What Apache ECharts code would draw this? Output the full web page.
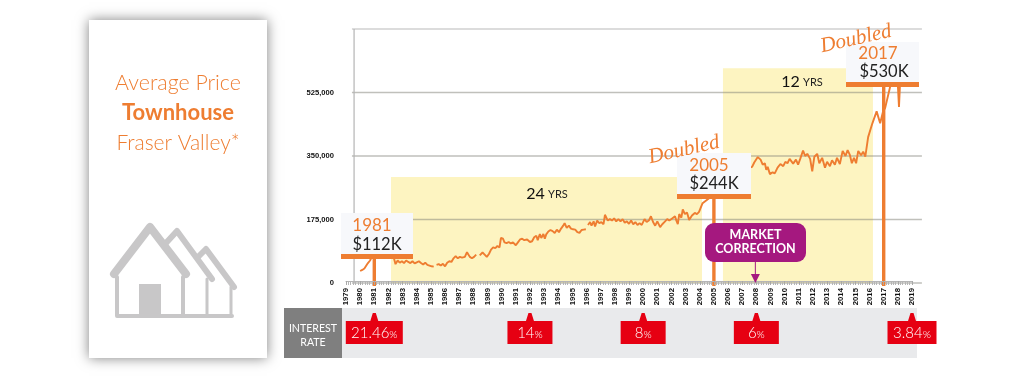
<!DOCTYPE html>
<html><head><meta charset="utf-8">
<style>html,body{margin:0;padding:0;background:#fff}#c{width:1016px;height:389px}</style>
<script src="https://cdn.jsdelivr.net/npm/echarts@6/dist/echarts.min.js"></script>
</head><body><div id="c"></div>
<script>
// [year, average price in $K]; null marks a break in the printed line
const price1980s=[[1980,33],[1980.15,36],[1980.3,40],[1980.4,42],[1980.55,55],[1980.7,62],[1980.8,70],[1981,88],[1981.3,112],[1981.6,105],[1981.9,88],[1982.1,76],[1982.2,70],[1982.35,74],[1982.5,52],[1982.65,62],[1982.8,56],[1982.95,60],[1983.1,55],[1983.25,62],[1983.4,58],[1983.55,55],[1983.7,60],[1983.85,54],[1984,57],[1984.15,60],[1984.3,55],[1984.45,51],[1984.6,56],[1984.75,50],[1984.9,48],[1985.05,46],[1985.2,45],[1985.3,null],[1985.4,50],[1985.55,52],[1985.7,48],[1985.85,53],[1986,46],[1986.15,56],[1986.3,60],[1986.45,58],[1986.6,68],[1986.75,74],[1986.9,68],[1987.05,72],[1987.2,70],[1987.4,72],[1987.55,85],[1987.75,72],[1987.9,68],[1988.05,72],[1988.2,78],[1988.3,null],[1988.45,76],[1988.5,78],[1988.65,84],[1988.8,78],[1988.95,72],[1989.1,80],[1989.25,92],[1989.4,98],[1989.55,96],[1989.7,102],[1989.85,98],[1989.95,124]];
const price1990s=[[1990.1,122],[1990.2,112],[1990.35,110],[1990.5,113],[1990.65,109],[1990.8,112],[1991,104],[1991.15,112],[1991.3,120],[1991.45,122],[1991.6,118],[1991.8,120],[1992,113],[1992.15,115],[1992.3,126],[1992.45,130],[1992.55,118],[1992.7,135],[1992.8,124],[1992.95,135],[1993.05,122],[1993.15,134],[1993.3,142],[1993.45,146],[1993.6,143],[1993.75,138],[1993.9,147],[1994.05,140],[1994.2,150],[1994.35,158],[1994.45,165],[1994.6,152],[1994.75,158],[1994.9,150],[1995.05,148],[1995.2,147],[1995.35,140],[1995.5,138],[1995.65,146],[1995.8,147],[1995.95,148],[1996.03,null],[1996.1,160],[1996.25,168],[1996.35,158],[1996.5,170],[1996.6,156],[1996.75,172],[1996.9,165],[1997.05,168],[1997.2,162],[1997.3,188],[1997.5,172],[1997.65,176],[1997.8,172],[1997.95,178],[1998.1,170],[1998.25,176],[1998.4,170],[1998.55,176],[1998.7,166],[1998.85,170],[1999,163],[1999.15,172],[1999.3,162],[1999.45,168],[1999.6,160],[1999.75,165],[1999.9,160]];
const price2000s=[[2000.1,176],[2000.25,168],[2000.4,172],[2000.55,184],[2000.7,168],[2000.85,158],[2001,170],[2001.2,154],[2001.35,162],[2001.5,168],[2001.7,176],[2001.85,172],[2002.05,178],[2002.25,184],[2002.35,172],[2002.45,162],[2002.55,190],[2002.7,180],[2002.8,203],[2002.95,190],[2003.1,194],[2003.25,174],[2003.45,186],[2003.65,193],[2003.8,190],[2003.95,196],[2004.2,220],[2004.5,229],[2005,244],[2005.5,262],[2006,285],[2006.5,300],[2007,312],[2007.7,320],[2007.85,332],[2008.1,347],[2008.3,340],[2008.45,326],[2008.6,330],[2008.7,312],[2008.8,320],[2008.96,300],[2009.15,305],[2009.3,302],[2009.5,318],[2009.7,328],[2009.9,322]];
const price2010s=[[2010.05,334],[2010.2,330],[2010.35,342],[2010.6,329],[2010.8,340],[2010.95,326],[2011.1,342],[2011.3,365],[2011.45,350],[2011.6,356],[2011.8,342],[2011.95,308],[2012.1,348],[2012.3,356],[2012.45,330],[2012.65,345],[2012.85,318],[2013,334],[2013.2,322],[2013.35,338],[2013.55,326],[2013.7,345],[2013.9,328],[2014.1,364],[2014.3,350],[2014.45,366],[2014.6,354],[2014.75,330],[2014.9,345],[2015.05,330],[2015.2,364],[2015.4,352],[2015.55,362],[2015.7,348],[2015.8,352],[2015.9,402],[2016.2,440],[2016.5,473],[2016.75,440],[2016.95,472],[2017.1,482],[2017.45,540],[2017.6,560],[2018,546],[2018.08,485],[2018.15,546],[2018.5,556]];
const pricePoints=[...price1980s,...price1990s,...price2000s,...price2010s];

const yTickValues=[0,175,350,525,700];
const yTickLabels=['0','175,000','350,000','525,000',''];
// doubling periods: [from year, to year, top level in $K]
const periods=[[1982.18,2004.16,292],[2005.64,2016.24,592]];
const calloutYears=[1981,2005,2017];
const calloutLevels=[73,238,547];
const rateYears=[1981,1992,2000,2008,2019];
const rateLabels=['21.46','14','8','6','3.84'];
const correctionYear=2008;

const ORANGE='#ee7d31', FONT='Lato, "Open Sans", sans-serif';

const txt=(text,x,y,size,color,extra)=>({type:'text',z:100,style:Object.assign({text,x,y,font:`${size}px ${FONT}`,fill:color,align:'center',verticalAlign:'middle'},extra||{})});
const box=(x,y,w,h,fill,z,extra)=>({type:'rect',z:z,shape:Object.assign({x,y,width:w,height:h},extra||{}),style:{fill}});
const poly=(points,w)=>({type:'polyline',z:6,shape:{points},style:{stroke:'#c8c7c8',lineWidth:w,fill:null,lineCap:'round',lineJoin:'round'}});

const graphics=[
  {type:'rect',z:1,shape:{x:89,y:20,width:178,height:338},style:{fill:'#fff',shadowBlur:12,shadowColor:'rgba(0,0,0,0.5)'}},
  {type:'text',z:5,style:{text:'Average Price',x:178,y:83,font:`300 21.4px ${FONT}`,fill:ORANGE,align:'center',verticalAlign:'middle'}},
  {type:'text',z:5,style:{text:'Townhouse',x:178,y:113,font:`bold 22px ${FONT}`,fill:ORANGE,align:'center',verticalAlign:'middle'}},
  {type:'text',z:5,style:{text:'Fraser Valley*',x:178,y:143,font:`300 21px ${FONT}`,fill:ORANGE,align:'center',verticalAlign:'middle'}},
  poly([[198,257],[206,249],[234,287]],6), poly([[231,287],[231,316]],3),
  poly([[166,243],[177,231],[212,279]],6), poly([[207,279],[207,316]],3),
  {type:'polygon',z:6,shape:{points:[[118,277],[150,236],[182,277],[182,315],[118,315]]},style:{fill:'#fff'}},
  poly([[114,274],[150,227],[186,274]],8),
  poly([[117,277],[117,316],[232,316]],4), poly([[183,277],[183,316]],4),
  box(139,284,22,31,'#c8c7c8',7),
  box(342,308,575,50,'#e9eaec',0),
  box(284,308,58,50,'#7f7f7f',1),
  {type:'text',z:5,style:{text:'INTEREST\nRATE',x:313,y:336,font:`10.6px ${FONT}`,lineHeight:14,fill:'#fff',align:'center',verticalAlign:'middle'}},
  // callout panels
  box(341,213,72,41,'#f7f8fb',60), box(341,254,72,5,ORANGE,70),
  txt('1981',372,226,17,ORANGE), txt('$112K',377,245,16.5,'#222'),
  box(677,153,74,41,'#f7f8fb',60), box(677,194,74,5,ORANGE,70),
  txt('2005',709,166,17,ORANGE), txt('$244K',714,184,16.5,'#222'),
  box(846,42,73,40,'#f7f8fb',60), box(846,82,73,5,ORANGE,70),
  txt('2017',878,54,17,ORANGE), txt('$530K',884,72,16.5,'#222'),
  {type:'text',z:100,x:684,y:150,rotation:0.22,style:{text:'Doubled',font:'italic 21px "Liberation Serif", serif',fill:ORANGE,align:'center',verticalAlign:'middle'}},
  {type:'text',z:100,x:856,y:39,rotation:0.22,style:{text:'Doubled',font:'italic 21px "Liberation Serif", serif',fill:ORANGE,align:'center',verticalAlign:'middle'}},
  {type:'text',z:50,style:{x:547,y:194,text:'{a|24} {b|YRS}',align:'center',verticalAlign:'middle',rich:{a:{font:`16px ${FONT}`,fill:'#111'},b:{font:`11px ${FONT}`,fill:'#222'}}}},
  {type:'text',z:50,style:{x:802,y:82,text:'{a|12} {b|YRS}',align:'center',verticalAlign:'middle',rich:{a:{font:`16px ${FONT}`,fill:'#111'},b:{font:`11px ${FONT}`,fill:'#222'}}}},
  // market correction
  box(705,223,101,39,'#a5187f',80,{r:9}),
  txt('MARKET',755.5,235,12.5,'#fff',{font:`bold 12.5px ${FONT}`}),
  txt('CORRECTION',755.5,249,12.5,'#fff',{font:`bold 12.5px ${FONT}`})
];

const chart=echarts.init(document.getElementById('c'),null,{renderer:'canvas'});
chart.setOption({
  animation:false,
  grid:{left:346,right:104,top:29,bottom:106,containLabel:false},
  xAxis:{type:'value',min:1979,max:2019,interval:1,offset:-2,z:4,
    axisLine:{show:true,lineStyle:{color:'#b5b5b5',width:1}},
    axisTick:{show:true,length:4,lineStyle:{color:'#a8a8a8',width:1}},
    minorTick:{show:true,splitNumber:6,length:4,lineStyle:{color:'#b5b5b5',width:1}},
    splitLine:{show:false},minorSplitLine:{show:false},
    axisLabel:{rotate:90,margin:7,fontSize:7.8,color:'#111',fontFamily:'Liberation Sans',fontWeight:'bold',formatter:v=>String(v),hideOverlap:false}},
  yAxis:{type:'value',min:0,max:700,interval:175,
    axisLine:{show:false},axisTick:{show:false},splitLine:{show:false},
    axisLabel:{margin:12,fontSize:7.6,color:'#111',fontFamily:'Liberation Sans',fontWeight:'bold',
      formatter:v=>yTickLabels[yTickValues.indexOf(v)]}},
  graphic:{elements:graphics},
  series:[
    {type:'custom',z:1,silent:true,data:periods,encode:{x:0,y:2},
     renderItem:(p,api)=>{const a=api.coord([api.value(0),api.value(2)]),b=api.coord([api.value(1),0]);
       return {type:'rect',shape:{x:a[0],y:a[1],width:b[0]-a[0],height:b[1]-a[1]},style:{fill:'#fdf4c1'}};}},
    {type:'custom',z:2,silent:true,data:yTickValues.map(v=>[v]),encode:{y:0},
     renderItem:(p,api)=>{const v=api.value(0),a=api.coord([1979.42,v]),b=api.coord([2019.7,v]);
       return {type:'line',shape:{x1:a[0],y1:a[1],x2:b[0],y2:b[1]},style:{stroke:v===700?'#dcdcdc':'rgba(130,130,120,0.5)',lineWidth:v===700?2:1.4}};}},
    {type:'custom',z:2,silent:true,data:[[1979.57]],encode:{x:0},
     renderItem:(p,api)=>{const a=api.coord([api.value(0),700]),b=api.coord([api.value(0),0]);
       return {type:'line',shape:{x1:a[0],y1:a[1],x2:b[0],y2:b[1]},style:{stroke:'#b4b4b4',lineWidth:1.2}};}},
    {type:'line',z:3,silent:true,data:pricePoints,showSymbol:false,connectNulls:false,clip:false,
     lineStyle:{color:ORANGE,width:1.9},itemStyle:{color:ORANGE}},
    {type:'custom',z:4,silent:true,data:calloutYears.map((v,i)=>[v,calloutLevels[i]]),encode:{x:0,y:1},
     renderItem:(p,api)=>{const a=api.coord([api.value(0),api.value(1)]),b=api.coord([api.value(0),0]);
       return {type:'rect',shape:{x:a[0]-1.7,y:a[1],width:3.4,height:b[1]+3-a[1]},style:{fill:ORANGE}};}},
    {type:'custom',z:5,silent:true,data:[[correctionYear]],encode:{x:0},
     renderItem:(p,api)=>{const a=api.coord([api.value(0),0]);
       return {type:'group',children:[
         {type:'line',shape:{x1:a[0]-1,y1:262,x2:a[0]-1,y2:276},style:{stroke:'#a5187f',lineWidth:1}},
         {type:'polygon',shape:{points:[[a[0]-5.5,274],[a[0]+3.5,274],[a[0]-1,283]]},style:{fill:'#a5187f'}}]};}},
    {type:'custom',z:5,silent:true,data:rateYears.map((y,i)=>[y,i]),encode:{x:0},
     renderItem:(p,api)=>{const x=api.coord([api.value(0),0])[0],label=rateLabels[api.value(1)];
       const w=label==='21.46'?57:label==='3.84'?49:45;
       const l=x-w/2,r=x+w/2,t=321,b=344;
       return {type:'group',children:[
         {type:'polygon',shape:{points:[[l,t],[x-4,t],[x-1.5,313],[x+1.5,313],[x+4,t],[r,t],[r,b],[l,b]]},style:{fill:'#e60012'}},
         {type:'text',style:{x:x,y:333,text:`{a|${label}}{b|%}`,align:'center',verticalAlign:'middle',
           rich:{a:{font:`300 15px ${FONT}`,fill:'#fff'},b:{font:`300 10.5px ${FONT}`,fill:'#fff',verticalAlign:'bottom'}}}}]};}}
  ]
});
</script></body></html>
